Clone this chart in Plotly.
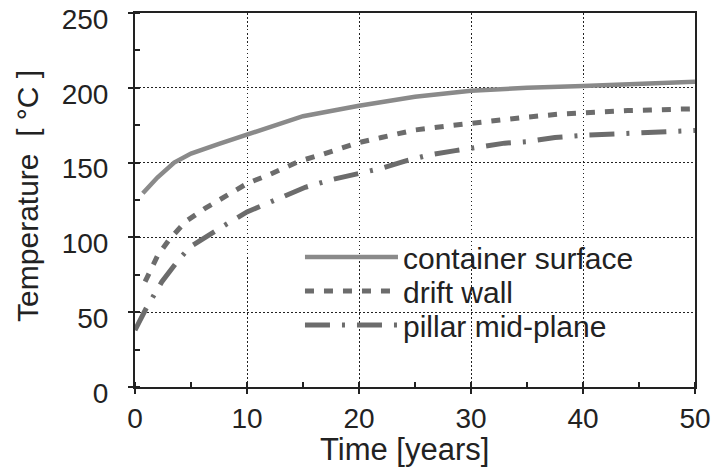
import plotly.graph_objects as go

# Time axis (years) and temperatures (deg C) for each location
t_container = [0.7, 2, 3.5, 5, 7.5, 10, 12.5, 15, 20, 25, 30, 35, 40, 45, 50]
T_container = [129.5, 140, 150, 156, 162.5, 168.5, 175, 181, 188, 194, 198, 200, 201.2, 202.5, 204]

t_drift = [0.9, 2, 3, 4.5, 6.25, 8, 10, 12, 14.7, 16.5, 18.3, 20, 22, 25, 28, 30,
           32, 35, 38, 40, 42, 44, 46, 48, 50]
T_drift = [70.4, 87.5, 98, 110.5, 119.4, 127, 136, 142, 151, 155, 159, 163.4, 166.8,
           171.8, 174.6, 176.4, 178, 180.4, 182.5, 183.5, 184.3, 184.8, 185.2, 185.6, 186]

t_pillar = [0, 1, 2.4, 4, 5, 6.25, 8.2, 10, 12.8, 15.2, 17.4, 20, 22, 24.1, 26.2,
            28.6, 30.6, 33, 35, 37.5, 40, 42, 44, 46.4, 48.5, 50]
T_pillar = [38, 52.6, 70.4, 86, 94, 100, 109, 117, 126, 133.5, 138.3, 143, 146.2,
            151, 155, 158, 160.6, 163, 164, 166.8, 168.2, 169, 169.5, 170.2, 170.9, 171.5]

series_names = ["container surface", "drift wall", "pillar mid-plane"]

x_ticks = [0, 10, 20, 30, 40, 50]
y_ticks = [0, 50, 100, 150, 200, 250]

FONT = "Liberation Sans, Arial, sans-serif"
INK = "#222222"
LEGEND_FONT = dict(family=FONT, size=30, color=INK)

fig = go.Figure()
fig.add_trace(go.Scatter(x=t_container, y=T_container, mode="lines", name=series_names[0],
                         legend="legend",
                         line=dict(color="#8a8a8a", width=4.5)))
fig.add_trace(go.Scatter(x=t_drift, y=T_drift, mode="lines", name=series_names[1],
                         legend="legend2",
                         line=dict(color="#6c6c6c", width=5, dash="9px,10px")))
fig.add_trace(go.Scatter(x=t_pillar, y=T_pillar, mode="lines", name=series_names[2],
                         legend="legend3",
                         line=dict(color="#6c6c6c", width=5, dash="25px,12px,3px,12px")))

axis_common = dict(
    showline=True, linecolor=INK, linewidth=2, mirror=True, automargin=False,
    showgrid=True, gridcolor="#222222", gridwidth=1.4, griddash="1.5px,2.5px",
    zeroline=False, ticks="outside", ticklen=5, tickwidth=1.5, tickcolor=INK,
    tickfont=dict(family=FONT, size=28, color=INK), ticklabeloverflow="allow",
)

fig.update_xaxes(range=[0, 50], tickvals=x_ticks, ticktext=[str(v) for v in x_ticks],
                 minor=dict(ticks="inside", ticklen=5, tickwidth=1.5, tickcolor=INK,
                            dtick=5, showgrid=False),
                 ticklabelstandoff=0, **axis_common)
fig.update_yaxes(range=[0, 250], tickvals=y_ticks, ticktext=[str(v) for v in y_ticks],
                 minor=dict(ticks="inside", ticklen=5, tickwidth=1.5, tickcolor=INK,
                            dtick=25, showgrid=False),
                 ticklabelstandoff=14, ticklabelshift=6, **axis_common)

# white panel behind the legend, sitting between grid and data
fig.add_shape(type="rect", xref="paper", yref="paper",
              x0=0.227, x1=0.99, y0=0.045, y1=0.441,
              fillcolor="white", line=dict(width=0), layer="between")

fig.add_annotation(text="Time [years]", xref="paper", yref="paper", x=0.482, y=0,
                   xanchor="center", yanchor="middle", yshift=-62, showarrow=False,
                   font=dict(family=FONT, size=31, color=INK))
fig.add_annotation(text="Temperature  [ °C ]", xref="paper", yref="paper", x=0,
                   xanchor="center", yanchor="middle",
                   xshift=-107, y=0.511, textangle=-90, showarrow=False,
                   font=dict(family=FONT, size=30, color=INK))

legend_common = dict(x=0.2946, xanchor="left", yanchor="middle",
                     bgcolor="rgba(0,0,0,0)", itemwidth=93, font=LEGEND_FONT)

fig.update_layout(
    width=719, height=469,
    margin=dict(l=135, r=24, t=13, b=82, autoexpand=False),
    paper_bgcolor="white", plot_bgcolor="white",
    showlegend=True,
    legend=dict(y=0.3476, **legend_common),
    legend2=dict(y=0.2567, **legend_common),
    legend3=dict(y=0.1658, **legend_common),
)

fig.write_html("out.html")
